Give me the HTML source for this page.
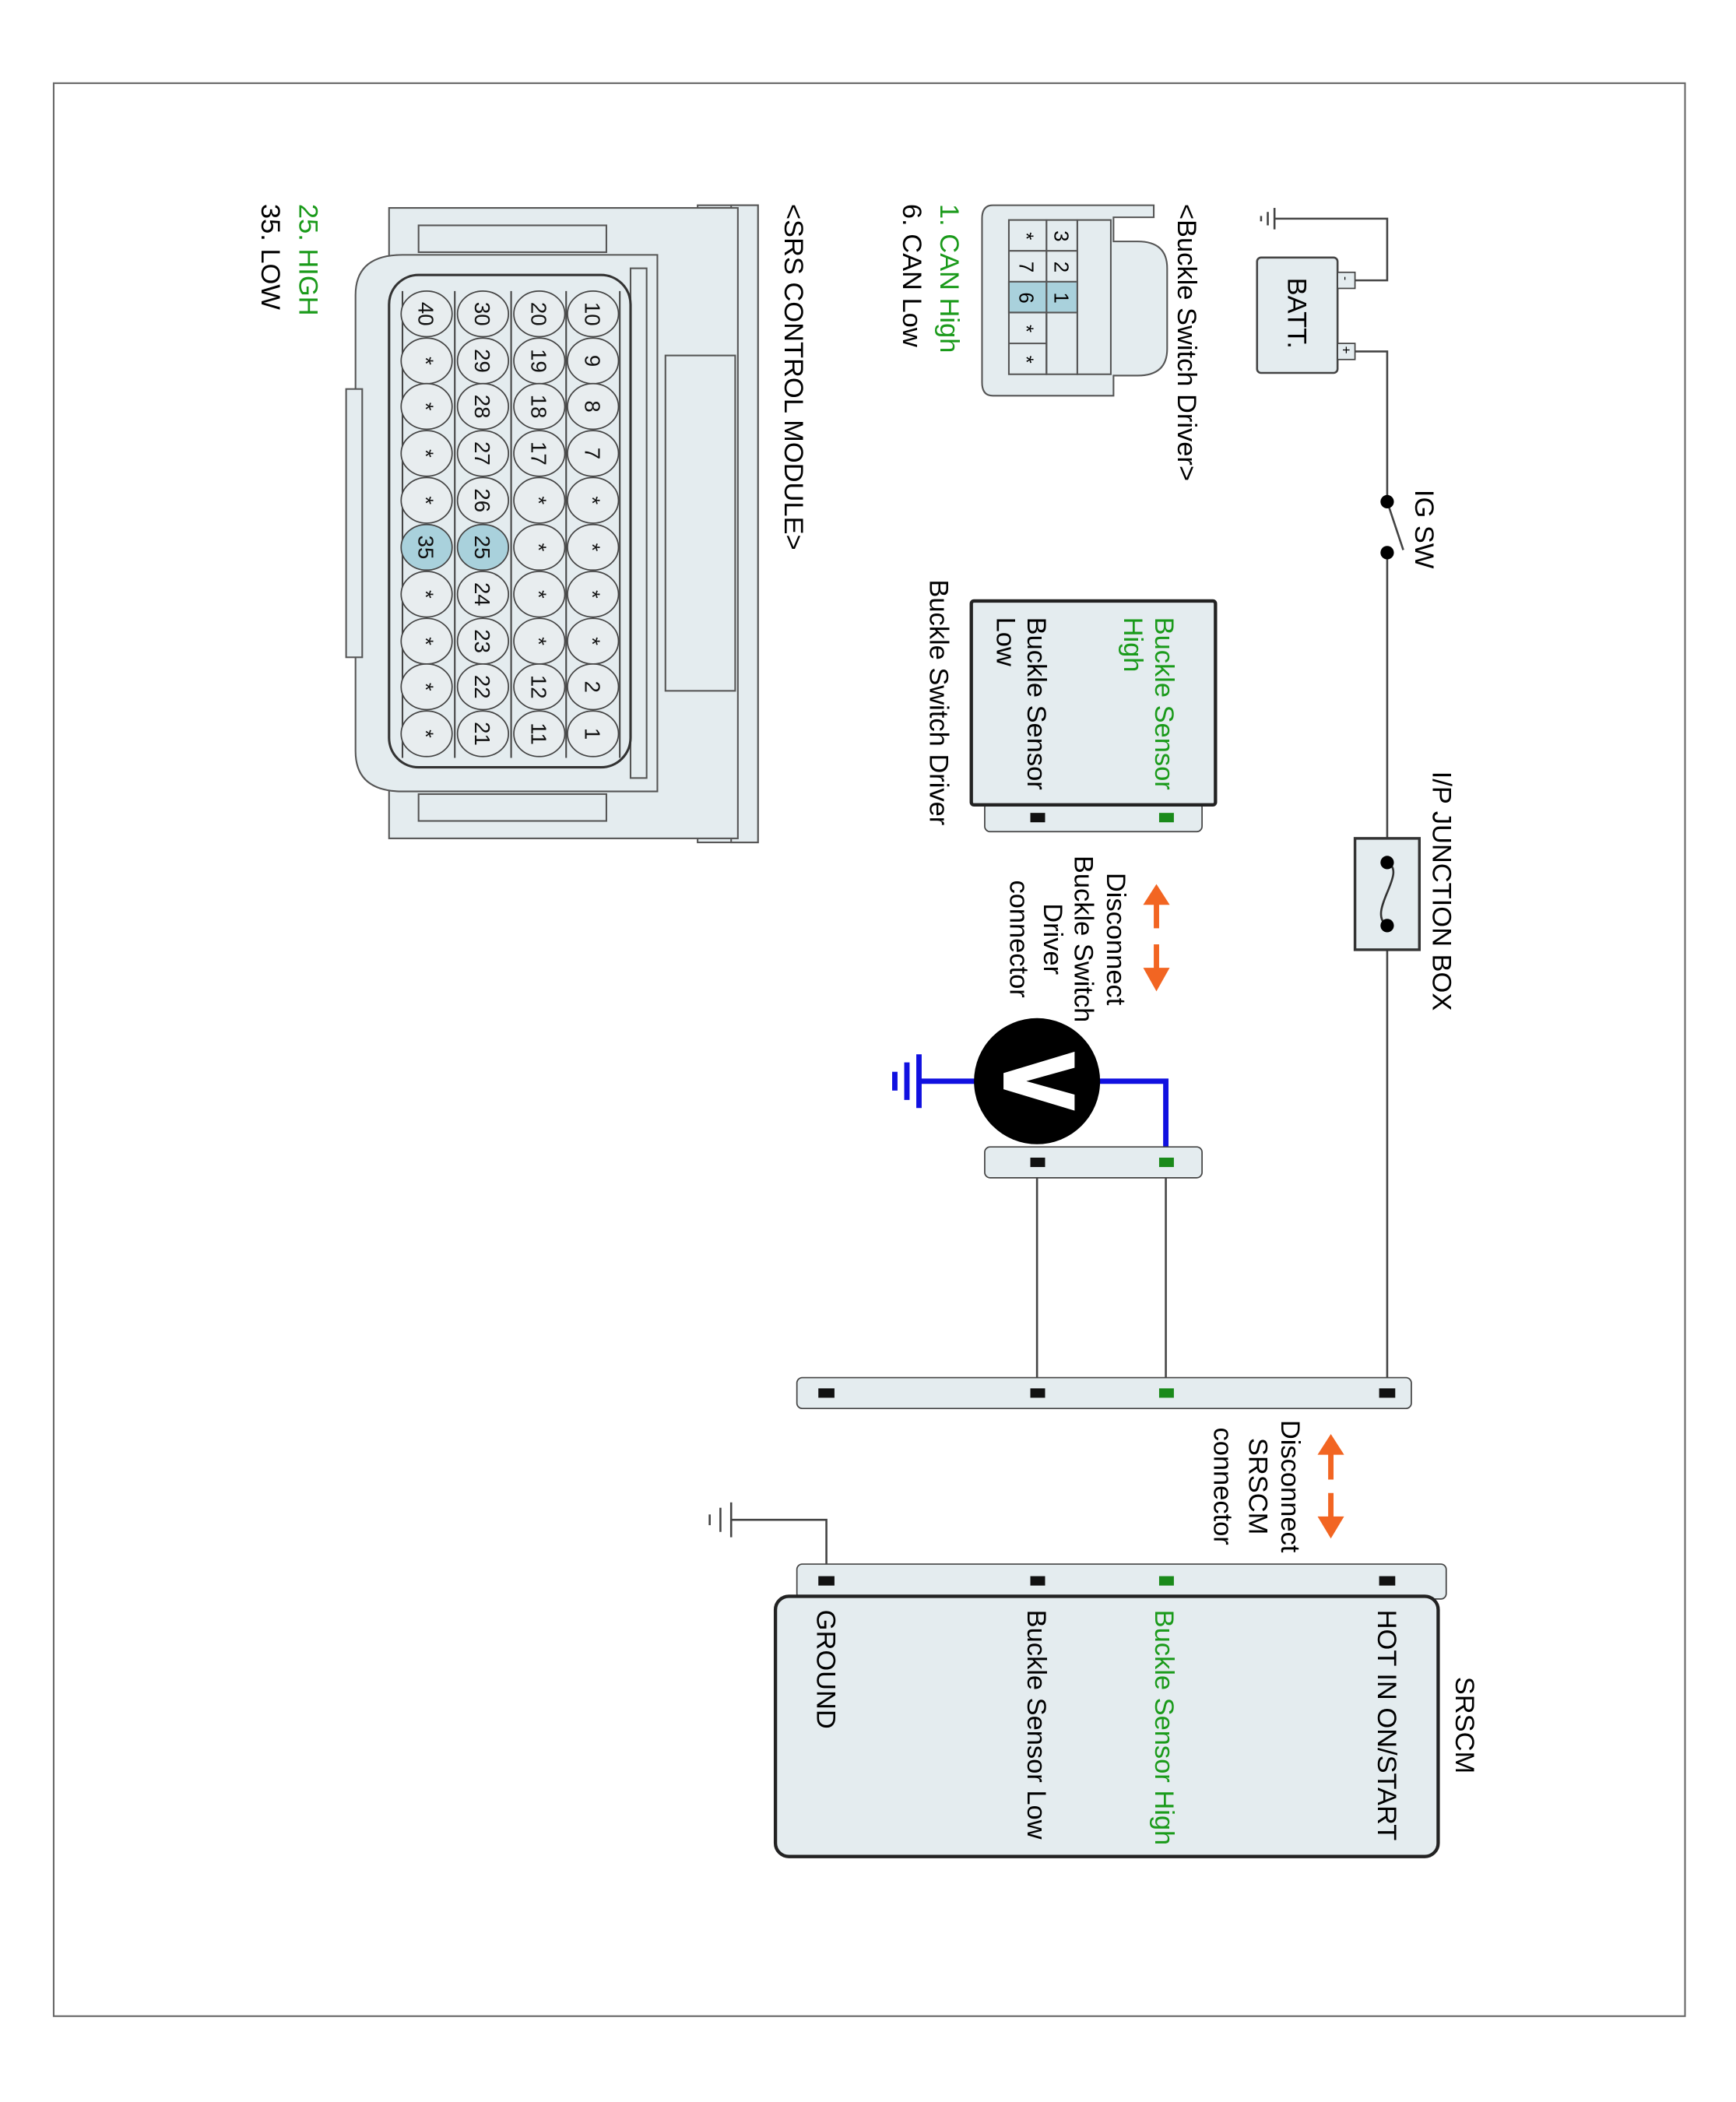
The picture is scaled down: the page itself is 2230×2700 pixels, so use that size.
<!DOCTYPE html>
<html><head><meta charset="utf-8"><style>html,body{margin:0;padding:0;background:#fff}svg{display:block}text{font-family:"Liberation Sans",sans-serif}</style></head>
<body>
<svg width="2230" height="2700" viewBox="0 0 1294 1567" preserveAspectRatio="none" xmlns="http://www.w3.org/2000/svg">
<rect x="40" y="62" width="1216" height="1441" fill="none" stroke="#666" stroke-width="1.2"/>
<g stroke="#444" stroke-width="1.5" fill="none">
<polyline points="1010,262 1034,262 1034,374"/>
<polyline points="1034,412 1034,1038"/>
<line x1="1034" y1="374" x2="1046" y2="410"/>
<polyline points="1010,209 1034,209 1034,163 950,163"/>
<line x1="950" y1="155" x2="950" y2="171"/><line x1="945" y1="158" x2="945" y2="168"/><line x1="940" y1="161" x2="940" y2="165"/>
<line x1="773" y1="878" x2="773" y2="1038"/><line x1="869" y1="878" x2="869" y2="1038"/>
<polyline points="616,1178 616,1133 545,1133"/>
<line x1="545" y1="1120" x2="545" y2="1146"/><line x1="537" y1="1124" x2="537" y2="1142"/><line x1="529" y1="1129" x2="529" y2="1137"/>
</g>
<circle cx="1034" cy="374" r="5"/><circle cx="1034" cy="412" r="5"/>
<rect x="937" y="192" width="60" height="86" rx="3" fill="#e4ecef" stroke="#444" stroke-width="1.5"/>
<rect x="997" y="203" width="13" height="12" fill="#e4ecef" stroke="#444"/><rect x="997" y="256" width="13" height="12" fill="#e4ecef" stroke="#444"/>
<text transform="translate(1000,206) rotate(90)" font-size="9">-</text>
<text transform="translate(1000,258) rotate(90)" font-size="10">+</text>
<text transform="translate(960,207) rotate(90)" font-size="20">BATT.</text>
<rect x="1010" y="625" width="48" height="83" fill="#e4ecef" stroke="#333" stroke-width="2"/>
<path d="M1034,643 C1050,650 1018,680 1034,690" fill="none" stroke="#333" stroke-width="1.5"/>
<circle cx="1034" cy="643" r="5"/><circle cx="1034" cy="690" r="5"/>
<text transform="translate(1055,365) rotate(90)" font-size="20">IG SW</text>
<text transform="translate(1068,575) rotate(90)" font-size="20">I/P JUNCTION BOX</text>
<rect x="734" y="598" width="162" height="22" rx="4" fill="#e4ecef" stroke="#444"/>
<rect x="724" y="448" width="182" height="152" rx="2" fill="#e4ecef" stroke="#222" stroke-width="2.5"/>
<rect x="864" y="606" width="11" height="7" fill="#1a8a1a"/><rect x="768" y="606" width="11" height="7" fill="#111"/>
<g font-size="20">
<text transform="translate(861,460) rotate(90)" fill="#1a9a1a">Buckle Sensor</text>
<text transform="translate(838,460) rotate(90)" fill="#1a9a1a">High</text>
<text transform="translate(766,460) rotate(90)">Buckle Sensor</text>
<text transform="translate(743,460) rotate(90)">Low</text>
<text transform="translate(693,432) rotate(90)">Buckle Switch Driver</text>
<g text-anchor="middle">
<text transform="translate(825,700) rotate(90)">Disconnect</text>
<text transform="translate(801,700) rotate(90)">Buckle Switch</text>
<text transform="translate(778,700) rotate(90)">Driver</text>
<text transform="translate(753,700) rotate(90)">connector</text>
<text transform="translate(955,1108) rotate(90)">Disconnect</text>
<text transform="translate(931,1108) rotate(90)">SRSCM</text>
<text transform="translate(905,1108) rotate(90)">connector</text>
</g></g>
<g fill="#f26522" stroke="#f26522" stroke-width="4">
<line x1="862" y1="670" x2="862" y2="692"/><polygon points="853,674 871,674 862,660" stroke-width="1"/>
<line x1="862" y1="704" x2="862" y2="726"/><polygon points="853,722 871,722 862,738" stroke-width="1"/>
<line x1="992" y1="1080" x2="992" y2="1103"/><polygon points="983,1084 1001,1084 992,1070" stroke-width="1"/>
<line x1="992" y1="1113" x2="992" y2="1135"/><polygon points="983,1131 1001,1131 992,1146" stroke-width="1"/>
</g>
<g stroke="#1010e0" stroke-width="4" fill="none">
<polyline points="815,806 869,806 869,866"/>
<line x1="730" y1="806" x2="685" y2="806"/>
<line x1="685" y1="786" x2="685" y2="826"/><line x1="676" y1="792" x2="676" y2="820"/><line x1="667" y1="799" x2="667" y2="813"/>
</g>
<circle cx="773" cy="806" r="47" fill="#000"/>
<polygon points="801,784 801,796 765,806 801,816 801,828 748,812 748,800" fill="#fff"/>
<rect x="734" y="855" width="162" height="23" rx="4" fill="#e4ecef" stroke="#444"/>
<rect x="864" y="863" width="11" height="7" fill="#1a8a1a"/><rect x="768" y="863" width="11" height="7" fill="#111"/>
<rect x="594" y="1027" width="458" height="23" rx="4" fill="#e4ecef" stroke="#444"/>
<rect x="610" y="1035" width="12" height="7" fill="#111"/><rect x="768" y="1035" width="11" height="7" fill="#111"/><rect x="864" y="1035" width="11" height="7" fill="#1a8a1a"/><rect x="1028" y="1035" width="12" height="7" fill="#111"/>
<rect x="594" y="1166" width="484" height="26" rx="4" fill="#e4ecef" stroke="#444"/>
<rect x="578" y="1190" width="494" height="194" rx="10" fill="#e4ecef" stroke="#222" stroke-width="2.5"/>
<rect x="610" y="1175" width="12" height="7" fill="#111"/><rect x="768" y="1175" width="11" height="7" fill="#111"/><rect x="864" y="1175" width="11" height="7" fill="#1a8a1a"/><rect x="1028" y="1175" width="12" height="7" fill="#111"/>
<g font-size="20">
<text transform="translate(1085,1250) rotate(90)">SRSCM</text>
<text transform="translate(1027,1200) rotate(90)">HOT IN ON/START</text>
<text transform="translate(861,1200) rotate(90)" fill="#1a9a1a">Buckle Sensor High</text>
<text transform="translate(766,1200) rotate(90)">Buckle Sensor Low</text>
<text transform="translate(609,1200) rotate(90)">GROUND</text>
<text transform="translate(878,152) rotate(90)">&lt;Buckle Switch Driver&gt;</text>
<text transform="translate(701,152) rotate(90)" fill="#1a9a1a">1. CAN High</text>
<text transform="translate(673,152) rotate(90)">6. CAN Low</text>
<text transform="translate(585,152) rotate(90)">&lt;SRS CONTROL MODULE&gt;</text>
<text transform="translate(223,152) rotate(90)" fill="#1a9a1a">25. HIGH</text>
<text transform="translate(195,152) rotate(90)">35. LOW</text>
</g>
<g stroke="#555" stroke-width="1.2" fill="#e4ecef">
<path d="M740,153 H860 V162 H830 V180 H848 Q870,180 870,200 V260 Q870,280 848,280 H830 V295 H740 Q732,295 732,285 V163 Q732,153 740,153 Z"/>
<rect x="803" y="164" width="25" height="115"/>
<rect x="780" y="164" width="23" height="115"/>
<rect x="752" y="164" width="28" height="115"/>
<rect x="780" y="210" width="23" height="23" fill="#a9d1dc"/>
<rect x="752" y="210" width="28" height="23" fill="#a9d1dc"/>
<line x1="780" y1="187" x2="803" y2="187"/><line x1="780" y1="233" x2="780" y2="279"/>
<line x1="752" y1="187" x2="780" y2="187"/><line x1="752" y1="233" x2="780" y2="233"/><line x1="752" y1="256" x2="780" y2="256"/>
</g>
<g font-size="15" text-anchor="middle">
<text transform="translate(786,176) rotate(90)">3</text><text transform="translate(786,199) rotate(90)">2</text><text transform="translate(786,222) rotate(90)">1</text>
<text transform="translate(760,176) rotate(90)">*</text><text transform="translate(760,199) rotate(90)">7</text><text transform="translate(760,222) rotate(90)">6</text><text transform="translate(760,245) rotate(90)">*</text><text transform="translate(760,268) rotate(90)">*</text>
</g>
<g stroke="#555" stroke-width="1.2" fill="#e4ecef">
<rect x="520" y="153" width="45" height="475"/>
<rect x="545" y="153" width="20" height="475"/>
<rect x="290" y="155" width="260" height="470"/>
<rect x="496" y="265" width="52" height="250"/>
<path d="M300,190 H490 V590 H300 Q265,590 265,560 V220 Q265,190 300,190 Z"/>
<rect x="258" y="290" width="12" height="200"/>
<rect x="312" y="168" width="140" height="20"/>
<rect x="312" y="592" width="140" height="20"/>
<rect x="470" y="200" width="12" height="380"/>
<rect x="290" y="205" width="180" height="367" rx="22" stroke="#333" stroke-width="1.8"/>
</g>
<g stroke="#444" stroke-width="1.2">
<line x1="300" y1="217" x2="300" y2="565"/><line x1="339" y1="217" x2="339" y2="565"/><line x1="381" y1="217" x2="381" y2="565"/><line x1="422" y1="217" x2="422" y2="565"/><line x1="462" y1="217" x2="462" y2="565"/>
</g>
<g font-size="16" text-anchor="middle" stroke="#444" stroke-width="1">
<g fill="#e8edef">
<ellipse cx="442" cy="234" rx="19" ry="17"/><ellipse cx="442" cy="269" rx="19" ry="17"/><ellipse cx="442" cy="303" rx="19" ry="17"/><ellipse cx="442" cy="338" rx="19" ry="17"/><ellipse cx="442" cy="373" rx="19" ry="17"/><ellipse cx="442" cy="408" rx="19" ry="17"/><ellipse cx="442" cy="443" rx="19" ry="17"/><ellipse cx="442" cy="478" rx="19" ry="17"/><ellipse cx="442" cy="512" rx="19" ry="17"/><ellipse cx="442" cy="547" rx="19" ry="17"/>
<ellipse cx="402" cy="234" rx="19" ry="17"/><ellipse cx="402" cy="269" rx="19" ry="17"/><ellipse cx="402" cy="303" rx="19" ry="17"/><ellipse cx="402" cy="338" rx="19" ry="17"/><ellipse cx="402" cy="373" rx="19" ry="17"/><ellipse cx="402" cy="408" rx="19" ry="17"/><ellipse cx="402" cy="443" rx="19" ry="17"/><ellipse cx="402" cy="478" rx="19" ry="17"/><ellipse cx="402" cy="512" rx="19" ry="17"/><ellipse cx="402" cy="547" rx="19" ry="17"/>
<ellipse cx="360" cy="234" rx="19" ry="17"/><ellipse cx="360" cy="269" rx="19" ry="17"/><ellipse cx="360" cy="303" rx="19" ry="17"/><ellipse cx="360" cy="338" rx="19" ry="17"/><ellipse cx="360" cy="373" rx="19" ry="17"/><ellipse cx="360" cy="408" rx="19" ry="17" fill="#a9d1dc"/><ellipse cx="360" cy="443" rx="19" ry="17"/><ellipse cx="360" cy="478" rx="19" ry="17"/><ellipse cx="360" cy="512" rx="19" ry="17"/><ellipse cx="360" cy="547" rx="19" ry="17"/>
<ellipse cx="318" cy="234" rx="19" ry="17"/><ellipse cx="318" cy="269" rx="19" ry="17"/><ellipse cx="318" cy="303" rx="19" ry="17"/><ellipse cx="318" cy="338" rx="19" ry="17"/><ellipse cx="318" cy="373" rx="19" ry="17"/><ellipse cx="318" cy="408" rx="19" ry="17" fill="#a9d1dc"/><ellipse cx="318" cy="443" rx="19" ry="17"/><ellipse cx="318" cy="478" rx="19" ry="17"/><ellipse cx="318" cy="512" rx="19" ry="17"/><ellipse cx="318" cy="547" rx="19" ry="17"/>
</g>
<g fill="#111" stroke="none">
<text transform="translate(436,234) rotate(90)">10</text><text transform="translate(436,269) rotate(90)">9</text><text transform="translate(436,303) rotate(90)">8</text><text transform="translate(436,338) rotate(90)">7</text><text transform="translate(436,373) rotate(90)">*</text><text transform="translate(436,408) rotate(90)">*</text><text transform="translate(436,443) rotate(90)">*</text><text transform="translate(436,478) rotate(90)">*</text><text transform="translate(436,512) rotate(90)">2</text><text transform="translate(436,547) rotate(90)">1</text>
<text transform="translate(396,234) rotate(90)">20</text><text transform="translate(396,269) rotate(90)">19</text><text transform="translate(396,303) rotate(90)">18</text><text transform="translate(396,338) rotate(90)">17</text><text transform="translate(396,373) rotate(90)">*</text><text transform="translate(396,408) rotate(90)">*</text><text transform="translate(396,443) rotate(90)">*</text><text transform="translate(396,478) rotate(90)">*</text><text transform="translate(396,512) rotate(90)">12</text><text transform="translate(396,547) rotate(90)">11</text>
<text transform="translate(354,234) rotate(90)">30</text><text transform="translate(354,269) rotate(90)">29</text><text transform="translate(354,303) rotate(90)">28</text><text transform="translate(354,338) rotate(90)">27</text><text transform="translate(354,373) rotate(90)">26</text><text transform="translate(354,408) rotate(90)">25</text><text transform="translate(354,443) rotate(90)">24</text><text transform="translate(354,478) rotate(90)">23</text><text transform="translate(354,512) rotate(90)">22</text><text transform="translate(354,547) rotate(90)">21</text>
<text transform="translate(312,234) rotate(90)">40</text><text transform="translate(312,269) rotate(90)">*</text><text transform="translate(312,303) rotate(90)">*</text><text transform="translate(312,338) rotate(90)">*</text><text transform="translate(312,373) rotate(90)">*</text><text transform="translate(312,408) rotate(90)">35</text><text transform="translate(312,443) rotate(90)">*</text><text transform="translate(312,478) rotate(90)">*</text><text transform="translate(312,512) rotate(90)">*</text><text transform="translate(312,547) rotate(90)">*</text>
</g></g>
</svg>
</body></html>
